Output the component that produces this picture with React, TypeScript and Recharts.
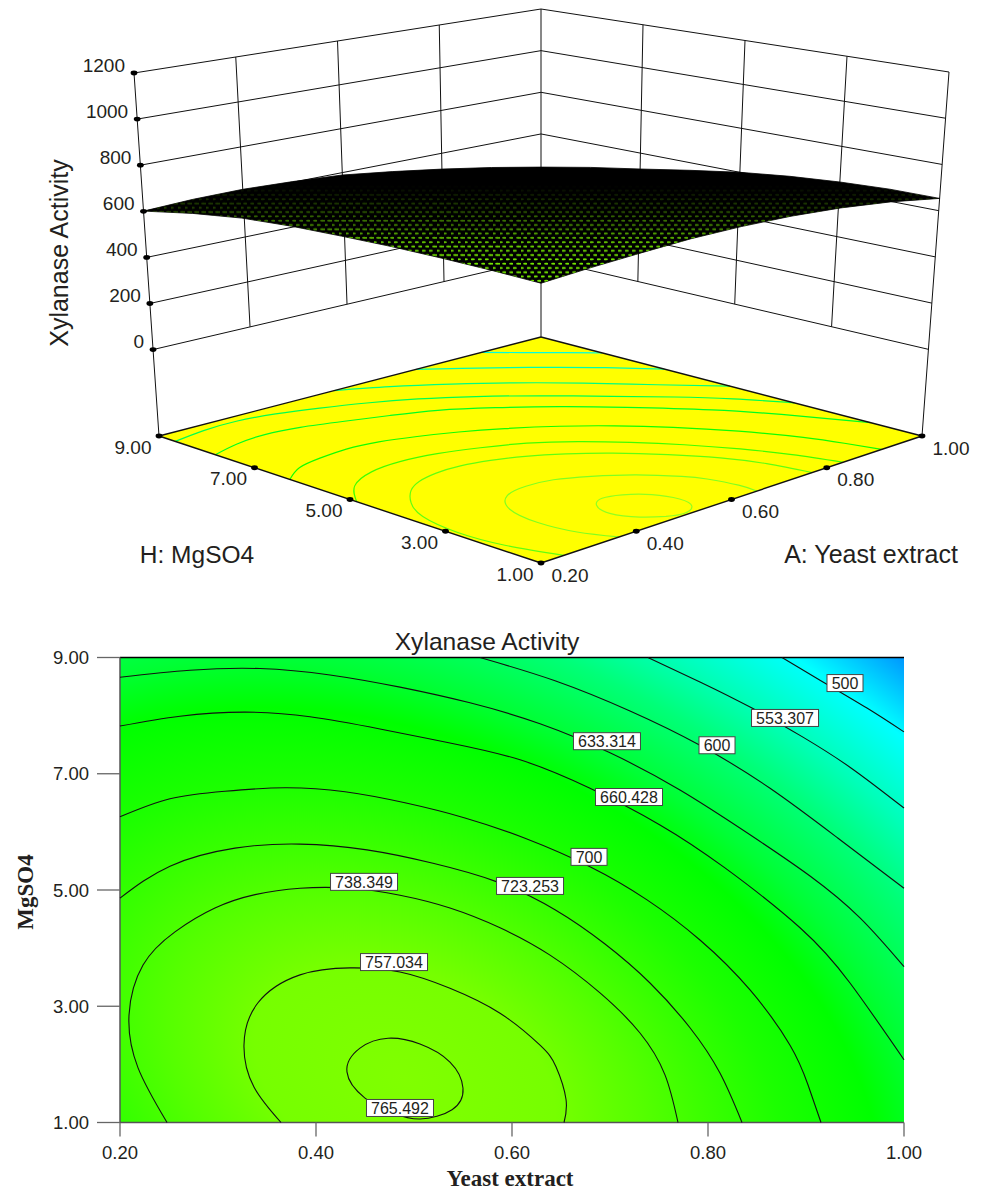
import React from "react";
import { ScatterChart, Scatter, XAxis, YAxis, ReferenceArea, ReferenceLine } from "recharts";

const SANS = '"Liberation Sans", Arial, sans-serif';
const SERIF = '"Liberation Serif", "Times New Roman", serif';
const INK = "#231f20";

// contours, as [yeast extract, MgSO4]
const contour500 = [[0.8755, 9], [0.9173, 8.58], [0.9622, 8.13], [1, 7.72]];
const contour553 = [[0.7388, 9], [0.7918, 8.58], [0.8449, 8.13], [0.8969, 7.63], [0.9459, 7.1], [1, 6.41]];
const contour600 = [[0.5673, 9], [0.6439, 8.6], [0.7204, 8.08], [0.7918, 7.49], [0.8633, 6.75], [0.9327, 5.89], [1, 5.03]];
const contour633 = [[0.2, 8.66], [0.2714, 8.78], [0.3429, 8.81], [0.4143, 8.7], [0.4857, 8.49], [0.5571, 8.22], [0.6286, 7.86], [0.7, 7.36], [0.7714, 6.72], [0.8429, 5.95], [0.9041, 5.24], [0.9551, 4.52], [1, 3.68]];
const contour660 = [[0.2, 7.82], [0.2612, 7.99], [0.3276, 8.06], [0.3939, 7.98], [0.4653, 7.77], [0.5367, 7.53], [0.6082, 7.24], [0.6796, 6.75], [0.751, 6.12], [0.8173, 5.38], [0.8939, 4.35], [0.9449, 3.4], [1, 2.08]];
const contour700 = [[0.2, 6.26], [0.251, 6.57], [0.3071, 6.7], [0.3684, 6.76], [0.4296, 6.69], [0.4908, 6.5], [0.552, 6.24], [0.6133, 5.89], [0.6796, 5.4], [0.7378, 4.83], [0.7918, 4.14], [0.8429, 3.28], [0.8837, 2.33], [0.902, 1.65], [0.9153, 1]];
const contour723 = [[0.2, 4.86], [0.251, 5.41], [0.3173, 5.72], [0.3837, 5.79], [0.452, 5.69], [0.5194, 5.46], [0.5847, 5.14], [0.6439, 4.66], [0.6949, 4.07], [0.7408, 3.4], [0.7816, 2.63], [0.8122, 1.85], [0.8347, 1]];
const contour738 = [[0.248, 1], [0.2184, 1.94], [0.2092, 2.85], [0.2235, 3.71], [0.2561, 4.28], [0.2969, 4.69], [0.3378, 4.92], [0.3837, 5.03], [0.4347, 5.03], [0.4857, 4.91], [0.5367, 4.69], [0.5878, 4.35], [0.6388, 3.88], [0.6898, 3.23], [0.7306, 2.54], [0.7561, 1.82], [0.7694, 1]];
const contour757 = [[0.3643, 1], [0.3367, 1.61], [0.3265, 2.33], [0.3408, 3.06], [0.3837, 3.54], [0.4347, 3.66], [0.4857, 3.59], [0.5367, 3.31], [0.5878, 2.88], [0.6286, 2.33], [0.6449, 1.96], [0.6551, 1.4], [0.6531, 1]];
const contour765 = [[0.4786, 1.16], [0.45, 1.42], [0.4316, 1.87], [0.4449, 2.28], [0.4735, 2.45], [0.5061, 2.35], [0.5367, 2.04], [0.55, 1.59], [0.5388, 1.22], [0.5061, 1.06], [0.4786, 1.16]];

const contours = [contour500, contour553, contour600, contour633, contour660, contour700, contour723, contour738, contour757, contour765];
const floorColors = ["#00ffe0", "#00ffb0", "#00ff80", "#00ff50", "#00ff20", "#10ff00", "#40ff00", "#60ff10", "#80ff20", "#90ff20"];

// contour labels: text and where the box sits
const labelTexts = ["500", "553.307", "600", "633.314", "660.428", "700", "723.253", "738.349", "757.034", "765.492"];
const labelA = [0.9398, 0.8786, 0.8092, 0.6969, 0.7194, 0.6786, 0.6184, 0.449, 0.4796, 0.4857];
const labelH = [8.56, 7.96, 7.49, 7.56, 6.6, 5.57, 5.07, 5.14, 3.76, 1.25];

const yeastTicks = [0.2, 0.4, 0.6, 0.8, 1];
const mgso4Ticks = [1, 3, 5, 7, 9];
const activityTicks = [0, 200, 400, 600, 800, 1000, 1200];
const FLOOR_Z = -375;
const TOP_Z = 1200;

// edges of the response surface
const edgeYeast = [0.2, 0.3, 0.4, 0.5, 0.6, 0.7, 0.8, 0.9, 1];
const edgeMgso4 = [9, 8, 7, 6, 5, 4, 3, 2, 1];
const surfaceAtH9 = [601, 610, 612, 603, 589, 560, 526, 487, 441];
const surfaceAtA1 = [441, 487, 526, 565, 600, 625, 642, 652, 653];
const surfaceAtH1 = [738, 748, 755, 760, 756, 745, 725, 695, 653];
const surfaceAtA02 = [601, 648, 684, 705, 718, 729, 735, 738, 738];

function project(a: number, h: number, z: number) {
  const u = (a - 0.2) / 0.8;
  const v = (h - 1) / 8;
  const w = (z - FLOOR_Z) / (TOP_Z - FLOOR_Z);
  const mix = (f: number, r: number, l: number, b: number) =>
    f * (1 - u) * (1 - v) + r * u * (1 - v) + l * (1 - u) * v + b * u * v;
  const fx = mix(541, 922, 159, 541);
  const fy = mix(563, 436, 436, 337);
  const tx = mix(541, 949, 134, 541);
  const ty = mix(167, 72, 73, 9);
  return { x: fx + (tx - fx) * w, y: fy + (ty - fy) * w };
}

const noDot = () => null;

const floorOutline = [project(0.2, 1, FLOOR_Z), project(1, 1, FLOOR_Z), project(1, 9, FLOOR_Z), project(0.2, 9, FLOOR_Z)];
const surfaceOutline = [
  ...edgeYeast.map((a, i) => project(a, 9, surfaceAtH9[i])),
  ...edgeMgso4.map((h, i) => project(1, h, surfaceAtA1[i])),
  ...[...edgeYeast].reverse().map((a, i) => project(a, 1, surfaceAtH1[surfaceAtH1.length - 1 - i])),
  ...[...edgeMgso4].reverse().map((h, i) => project(0.2, h, surfaceAtA02[surfaceAtA02.length - 1 - i])),
];

const pathOf = (pts: { x: number; y: number }[]) =>
  "M" + pts.map((p) => `${p.x.toFixed(1)} ${p.y.toFixed(1)}`).join("L") + "Z";

function FloorShape(props: any) {
  return <path d={pathOf(props.payload.pts)} fill="#ffff00" stroke="none" />;
}

function SurfaceShape(props: any) {
  const d = pathOf(props.payload.pts);
  return (
    <g>
      <defs>
        <pattern id="meshDots" patternUnits="userSpaceOnUse" x="541" y="283" width="7" height="8.6">
          <ellipse cx="1.75" cy="2.15" rx="2.2" ry="1.05" fill="#80ff00" />
          <ellipse cx="5.25" cy="6.45" rx="2.2" ry="1.05" fill="#80ff00" />
        </pattern>
        <linearGradient id="meshFade" gradientUnits="userSpaceOnUse" x1="0" y1="185" x2="0" y2="283">
          <stop offset="0" stopColor="#fff" stopOpacity={0} />
          <stop offset="0.3" stopColor="#fff" stopOpacity={0.35} />
          <stop offset="0.62" stopColor="#fff" stopOpacity={0.85} />
          <stop offset="1" stopColor="#fff" stopOpacity={1} />
        </linearGradient>
        <mask id="meshMask" maskUnits="userSpaceOnUse" x="0" y="150" width="986" height="150">
          <rect x="0" y="150" width="986" height="150" fill="url(#meshFade)" />
        </mask>
      </defs>
      <path d={d} fill="#000" stroke="#000" strokeWidth={0.8} />
      <path d={d} fill="url(#meshDots)" mask="url(#meshMask)" />
    </g>
  );
}

function TickDot(props: any) {
  return <ellipse cx={props.cx} cy={props.cy} rx={3.4} ry={2.4} fill="#000" />;
}

function TickText(props: any) {
  return (
    <text x={props.cx} y={props.cy} textAnchor={props.payload.anchor} dominantBaseline="central" fontFamily={SANS} fontSize={19} fill={INK}>
      {props.payload.text}
    </text>
  );
}

function ContourLabel(props: any) {
  const text = props.payload.text;
  const w = text.length > 3 ? 67 : 36;
  return (
    <g>
      <rect x={props.cx - w / 2} y={props.cy - 8.5} width={w} height={17} fill="#fff" stroke="#444" strokeWidth={1} />
      <text x={props.cx} y={props.cy + 0.5} textAnchor="middle" dominantBaseline="central" fontFamily={SANS} fontSize={16} fill={INK}>
        {text}
      </text>
    </g>
  );
}

const wallSegment = (from: number[], to: number[], width = 1) => {
  const a = project(from[0], from[1], from[2]);
  const b = project(to[0], to[1], to[2]);
  return (
    <Scatter
      key={from.join() + to.join()}
      data={[a, b]}
      line={{ stroke: "#111", strokeWidth: width }}
      shape={noDot}
      isAnimationActive={false}
    />
  );
};

const floorTickPts = [
  ...mgso4Ticks.map((h) => project(0.2, h, FLOOR_Z)),
  ...yeastTicks.slice(1).map((a) => project(a, 1, FLOOR_Z)),
];
const activityTickPts = activityTicks.map((z) => project(0.2, 9, z));
const activityLabels = activityTicks.map((z) => {
  const p = project(0.2, 9, z);
  return { x: p.x - 9, y: p.y - 8, text: String(z), anchor: "end" };
});
const mgso4Labels = mgso4Ticks.map((h) => {
  const p = project(0.2, h, FLOOR_Z);
  return { x: p.x - 26, y: p.y + 11, text: h.toFixed(2), anchor: "middle" };
});
const yeastLabels = yeastTicks.map((a) => {
  const p = project(a, 1, FLOOR_Z);
  return { x: p.x + 29, y: p.y + 12, text: a.toFixed(2), anchor: "middle" };
});

function SurfacePlot() {
  return (
    <ScatterChart width={986} height={600} margin={{ top: 0, right: 0, bottom: 0, left: 0 }} style={{ position: "absolute", left: 0, top: 0 }}>
      <XAxis type="number" dataKey="x" domain={[0, 986]} hide />
      <YAxis type="number" dataKey="y" domain={[0, 600]} reversed hide />
      <Scatter data={[{ x: 0, y: 0, pts: floorOutline }]} shape={FloorShape} isAnimationActive={false} />
      {contours.map((c, i) => (
        <Scatter
          key={i}
          data={c.map(([a, h]) => project(a, h, FLOOR_Z))}
          line={{ stroke: floorColors[i], strokeWidth: 1.2 }}
          lineJointType="natural"
          shape={noDot}
          isAnimationActive={false}
        />
      ))}
      {wallSegment([0.2, 1, FLOOR_Z], [1, 1, FLOOR_Z], 1.4)}
      {wallSegment([1, 1, FLOOR_Z], [1, 9, FLOOR_Z], 1.4)}
      {wallSegment([1, 9, FLOOR_Z], [0.2, 9, FLOOR_Z], 1.4)}
      {wallSegment([0.2, 9, FLOOR_Z], [0.2, 1, FLOOR_Z], 1.4)}
      {activityTicks.map((z) => wallSegment([0.2, 9, z], [1, 9, z]))}
      {activityTicks.map((z) => wallSegment([1, 9, z], [1, 1, z]))}
      {yeastTicks.slice(1, 4).map((a) => wallSegment([a, 9, 0], [a, 9, TOP_Z]))}
      {mgso4Ticks.slice(1, 4).map((h) => wallSegment([1, h, 0], [1, h, TOP_Z]))}
      {wallSegment([0.2, 9, FLOOR_Z], [0.2, 9, TOP_Z])}
      {wallSegment([1, 9, FLOOR_Z], [1, 9, TOP_Z])}
      {wallSegment([1, 1, FLOOR_Z], [1, 1, TOP_Z])}
      <Scatter data={[{ x: 0, y: 0, pts: surfaceOutline }]} shape={SurfaceShape} isAnimationActive={false} />
      <Scatter data={activityTickPts} shape={TickDot} isAnimationActive={false} />
      <Scatter data={floorTickPts} shape={TickDot} isAnimationActive={false} />
      <Scatter data={activityLabels} shape={TickText} isAnimationActive={false} />
      <Scatter data={mgso4Labels} shape={TickText} isAnimationActive={false} />
      <Scatter data={yeastLabels} shape={TickText} isAnimationActive={false} />
      <text x={197} y={554} textAnchor="middle" dominantBaseline="central" fontFamily={SANS} fontSize={24.5} fill={INK}>H: MgSO4</text>
      <text x={871} y={554} textAnchor="middle" dominantBaseline="central" fontFamily={SANS} fontSize={25} fill={INK}>A: Yeast extract</text>
      <text x={59} y={253} textAnchor="middle" dominantBaseline="central" fontFamily={SANS} fontSize={25} fill={INK} transform="rotate(-90 59 253)">Xylanase Activity</text>
    </ScatterChart>
  );
}

function ContourPlot() {
  const labelRows = labelTexts.map((text, i) => ({ x: labelA[i], y: labelH[i], text }));
  return (
    <ScatterChart width={986} height={590} margin={{ top: 57.5, right: 82, bottom: 0, left: 0 }} style={{ position: "absolute", left: 0, top: 600 }}>
      <defs>
        <radialGradient id="activityFill" gradientUnits="userSpaceOnUse" cx="0" cy="0" r="620" gradientTransform="translate(405 478) rotate(25) scale(1.5 1)">
          <stop offset="0" stopColor="#80ff00" />
          <stop offset="0.17" stopColor="#76ff00" />
          <stop offset="0.27" stopColor="#55ff00" />
          <stop offset="0.35" stopColor="#38ff00" />
          <stop offset="0.43" stopColor="#1cff00" />
          <stop offset="0.54" stopColor="#00ff00" />
          <stop offset="0.61" stopColor="#00ff35" />
          <stop offset="0.72" stopColor="#00ff78" />
          <stop offset="0.8" stopColor="#00ffb8" />
          <stop offset="0.9" stopColor="#00ffff" />
          <stop offset="1" stopColor="#0096ff" />
        </radialGradient>
      </defs>
      <XAxis
        type="number"
        dataKey="x"
        domain={[0.2, 1]}
        ticks={yeastTicks}
        interval={0}
        height={67.5}
        tickSize={14}
        tickMargin={9}
        tickFormatter={(v: number) => v.toFixed(2)}
        tick={{ fontFamily: SANS, fontSize: 18.5, fill: INK }}
        tickLine={{ stroke: "#666", strokeWidth: 1.3 }}
        axisLine={{ stroke: "#555", strokeWidth: 1.5 }}
      />
      <YAxis
        type="number"
        dataKey="y"
        domain={[1, 9]}
        ticks={mgso4Ticks}
        interval={0}
        width={120}
        tickSize={23}
        tickMargin={8}
        tickFormatter={(v: number) => v.toFixed(2)}
        tick={{ fontFamily: SANS, fontSize: 18.5, fill: INK }}
        tickLine={{ stroke: "#666", strokeWidth: 1.3 }}
        axisLine={{ stroke: "#555", strokeWidth: 1.5 }}
      />
      <ReferenceArea x1={0.2} x2={1} y1={1} y2={9} fill="url(#activityFill)" fillOpacity={1} stroke="none" />
      <ReferenceLine y={9} stroke="#000" strokeWidth={1.4} />
      {contours.map((c, i) => (
        <Scatter
          key={i}
          data={c.map(([x, y]) => ({ x, y }))}
          line={{ stroke: "#111", strokeWidth: 1.1 }}
          lineJointType="natural"
          shape={noDot}
          isAnimationActive={false}
        />
      ))}
      <Scatter data={labelRows} shape={ContourLabel} isAnimationActive={false} />
      <text x={487} y={41} textAnchor="middle" dominantBaseline="central" fontFamily={SANS} fontSize={24.6} fill={INK}>Xylanase Activity</text>
      <text x={510} y={578} textAnchor="middle" dominantBaseline="central" fontFamily={SERIF} fontWeight="bold" fontSize={23} fill={INK}>Yeast extract</text>
      <text x={25} y={292} textAnchor="middle" dominantBaseline="central" fontFamily={SERIF} fontWeight="bold" fontSize={23} fill={INK} transform="rotate(-90 25 292)">MgSO4</text>
    </ScatterChart>
  );
}

export default function App() {
  return (
    <div style={{ position: "absolute", left: 0, top: 0, width: 986, height: 1190, background: "#fff" }}>
      <SurfacePlot />
      <ContourPlot />
    </div>
  );
}
